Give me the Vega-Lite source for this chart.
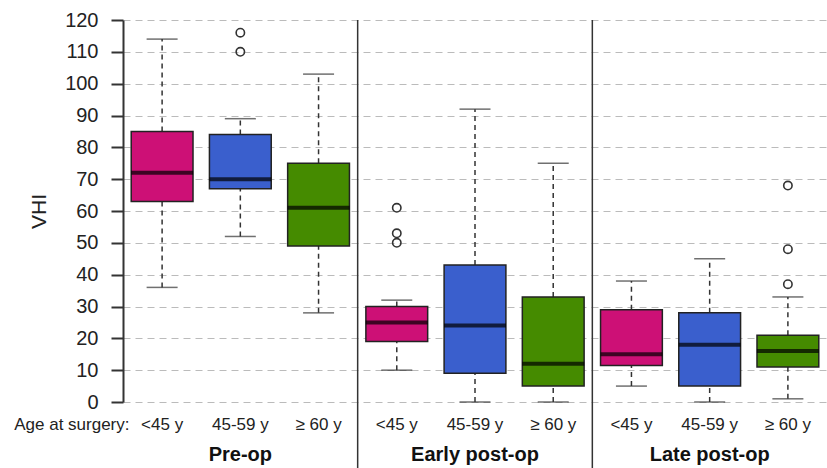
{
  "$schema": "https://vega.github.io/schema/vega-lite/v6.json",
  "width": 704,
  "height": 382,
  "autosize": {"type": "none"},
  "padding": {"left": 123, "top": 20, "right": 0, "bottom": 66},
  "background": "white",
  "config": {
    "view": {"stroke": null},
    "font": "Liberation Sans",
    "axisY": {
      "tickCount": 20,
      "labelOverlap": false,
      "titleFontSize": 21,
      "titleFontWeight": "normal",
      "titleColor": "#222222",
      "titlePadding": 15,
      "labelFontSize": 20,
      "labelColor": "#222222",
      "labelPadding": 13,
      "tickSize": 12,
      "tickWidth": 2,
      "tickColor": "#333333",
      "domainColor": "#333333",
      "domainWidth": 2,
      "grid": true,
      "gridColor": "#bbbbbb",
      "gridWidth": 1.2,
      "gridDash": [7, 5]
    }
  },
  "datasets": {
    "boxes": [
      {"key": "Pre-op|<45 y", "age": "<45 y", "lower": 36, "q1": 63, "median": 72, "q3": 85, "upper": 114},
      {"key": "Pre-op|45-59 y", "age": "45-59 y", "lower": 52, "q1": 67, "median": 70, "q3": 84, "upper": 89},
      {"key": "Pre-op|≥ 60 y", "age": "≥ 60 y", "lower": 28, "q1": 49, "median": 61, "q3": 75, "upper": 103},
      {"key": "Early post-op|<45 y", "age": "<45 y", "lower": 10, "q1": 19, "median": 25, "q3": 30, "upper": 32},
      {"key": "Early post-op|45-59 y", "age": "45-59 y", "lower": 0, "q1": 9, "median": 24, "q3": 43, "upper": 92},
      {"key": "Early post-op|≥ 60 y", "age": "≥ 60 y", "lower": 0, "q1": 5, "median": 12, "q3": 33, "upper": 75},
      {"key": "Late post-op|<45 y", "age": "<45 y", "lower": 5, "q1": 11.5, "median": 15, "q3": 29, "upper": 38},
      {"key": "Late post-op|45-59 y", "age": "45-59 y", "lower": 0, "q1": 5, "median": 18, "q3": 28, "upper": 45},
      {"key": "Late post-op|≥ 60 y", "age": "≥ 60 y", "lower": 1, "q1": 11, "median": 16, "q3": 21, "upper": 33}
    ],
    "outliers": [
      {"key": "Pre-op|45-59 y", "value": 116},
      {"key": "Pre-op|45-59 y", "value": 110},
      {"key": "Early post-op|<45 y", "value": 61},
      {"key": "Early post-op|<45 y", "value": 53},
      {"key": "Early post-op|<45 y", "value": 50},
      {"key": "Late post-op|≥ 60 y", "value": 68},
      {"key": "Late post-op|≥ 60 y", "value": 48},
      {"key": "Late post-op|≥ 60 y", "value": 37}
    ],
    "seps": [
      {"key": "Early post-op|<45 y"},
      {"key": "Late post-op|<45 y"}
    ],
    "groups": [
      {"key": "Pre-op|45-59 y", "label": "Pre-op"},
      {"key": "Early post-op|45-59 y", "label": "Early post-op"},
      {"key": "Late post-op|45-59 y", "label": "Late post-op"}
    ]
  },
  "encoding": {
    "x": {
      "field": "key",
      "type": "nominal",
      "scale": {
        "type": "band",
        "paddingInner": 0,
        "paddingOuter": 0,
        "domain": ["Pre-op|<45 y", "Pre-op|45-59 y", "Pre-op|≥ 60 y", "Early post-op|<45 y", "Early post-op|45-59 y", "Early post-op|≥ 60 y", "Late post-op|<45 y", "Late post-op|45-59 y", "Late post-op|≥ 60 y"]
      },
      "axis": {
        "labelExpr": "split(datum.label, '|')[1]",
        "labelAngle": 0,
        "labelFontSize": 17,
        "labelColor": "#222222",
        "labelPadding": 14,
        "domain": false,
        "ticks": false,
        "grid": false,
        "title": "Age at surgery:",
        "titleFontSize": 17,
        "titleFontWeight": "normal",
        "titleColor": "#222222",
        "titleAlign": "right",
        "titleAnchor": "start",
        "titleBaseline": "top",
        "titleX": 6,
        "titleY": 14
      }
    }
  },
  "layer": [
    {
      "data": {"name": "boxes"},
      "layer": [
        {
          "mark": {"type": "rule", "color": "#333333", "strokeWidth": 1.5, "strokeDash": [5, 4]},
          "encoding": {
            "y": {
              "field": "lower",
              "type": "quantitative",
              "scale": {"domain": [0, 120], "nice": false, "zero": false},
              "axis": {
                "values": [0, 10, 20, 30, 40, 50, 60, 70, 80, 90, 100, 110, 120],
                "tickCount": 20,
                "title": "VHI"
              }
            },
            "y2": {"field": "q1"}
          }
        },
        {
          "mark": {"type": "rule", "color": "#333333", "strokeWidth": 1.5, "strokeDash": [5, 4]},
          "encoding": {
            "y": {"field": "q3", "type": "quantitative"},
            "y2": {"field": "upper"}
          }
        },
        {
          "mark": {"type": "tick", "color": "#333333", "size": 31, "thickness": 1.5},
          "encoding": {"y": {"field": "lower", "type": "quantitative"}}
        },
        {
          "mark": {"type": "tick", "color": "#333333", "size": 31, "thickness": 1.5},
          "encoding": {"y": {"field": "upper", "type": "quantitative"}}
        },
        {
          "mark": {"type": "bar", "width": {"band": 0.79}, "stroke": "#222222", "strokeWidth": 1.5, "opacity": 1},
          "encoding": {
            "y": {"field": "q1", "type": "quantitative"},
            "y2": {"field": "q3"},
            "color": {
              "field": "age",
              "type": "nominal",
              "scale": {"domain": ["<45 y", "45-59 y", "≥ 60 y"], "range": ["#CD1076", "#3A5FCD", "#458B00"]},
              "legend": null
            }
          }
        },
        {
          "mark": {"type": "tick", "color": "#000000", "size": 62, "thickness": 4},
          "encoding": {"y": {"field": "median", "type": "quantitative"}}
        }
      ]
    },
    {
      "data": {"name": "seps"},
      "mark": {"type": "rule", "color": "#333333", "strokeWidth": 1.5},
      "encoding": {
        "x": {"field": "key", "type": "nominal", "bandPosition": 0},
        "y": {"datum": 120, "type": "quantitative"},
        "y2": {"datum": -22}
      }
    },
    {
      "data": {"name": "outliers"},
      "mark": {"type": "point", "shape": "circle", "filled": false, "size": 70, "stroke": "#333333", "strokeWidth": 1.6, "opacity": 1},
      "encoding": {
        "y": {"field": "value", "type": "quantitative"}
      }
    },
    {
      "data": {"name": "groups"},
      "mark": {"type": "text", "fontSize": 20, "fontWeight": "bold", "color": "#111111", "baseline": "middle", "align": "center"},
      "encoding": {
        "y": {"datum": -16.5, "type": "quantitative"},
        "text": {"field": "label"}
      }
    }
  ]
}
